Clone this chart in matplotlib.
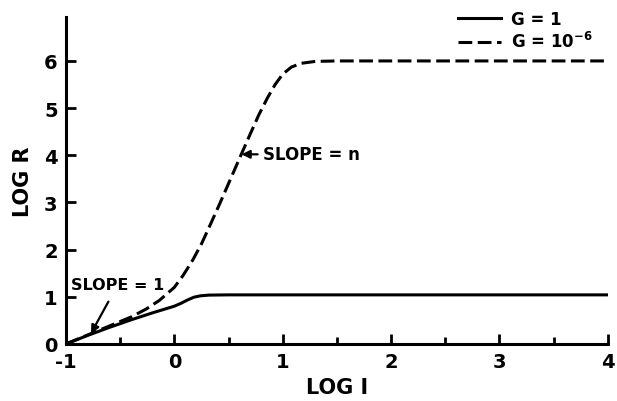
import matplotlib
matplotlib.use("Agg")
import matplotlib.pyplot as plt
from matplotlib.lines import Line2D

# Data
x_g1 = [-1.0, -0.8, -0.6, -0.4, -0.2, 0.0, 0.06, 0.12, 0.18, 0.24, 0.32, 0.5, 1.0, 2.0, 3.0, 4.0]
y_g1 = [0.0, 0.18, 0.35, 0.51, 0.66, 0.80, 0.86, 0.93, 0.99, 1.02, 1.035, 1.04, 1.04, 1.04, 1.04, 1.04]

x_g6 = [-1.0, -0.8, -0.6, -0.4, -0.26, -0.14, 0.0, 0.08, 0.17, 0.25, 0.33, 0.42, 0.5, 0.61,
        0.7, 0.78, 0.86, 0.93, 1.0, 1.08, 1.17, 1.3, 1.5, 2.0, 3.0, 4.0]
y_g6 = [0.0, 0.19, 0.38, 0.57, 0.74, 0.92, 1.20, 1.45, 1.78, 2.12, 2.52, 2.98, 3.40, 3.98,
        4.45, 4.86, 5.22, 5.50, 5.72, 5.87, 5.95, 5.99, 6.0, 6.0, 6.0, 6.0]

x_ticks = [-1, 0, 1, 2, 3, 4]
x_minor = [-0.5, 0.5, 1.5, 2.5, 3.5]
y_ticks = [0, 1, 2, 3, 4, 5, 6]
legend_labels = ["G = 1", r"G = 10$^{-6}$"]

plt.rcParams['font.family'] = ['DejaVu Sans']
plt.rcParams['font.weight'] = 'bold'

fig = plt.figure(figsize=(6.17, 4.02), dpi=100)
ax = fig.add_axes([0.107, 0.142, 0.878, 0.813])

lw = 2.2
ax.plot(x_g1, y_g1, color='black', lw=lw, solid_capstyle='round', solid_joinstyle='round')
ax.plot(x_g6, y_g6, color='black', lw=lw, dashes=(4.5, 1.8))

ax.set_xlim(-1, 4)
ax.set_ylim(0, 6.93)
for s in ['top', 'right']:
    ax.spines[s].set_visible(False)
for s in ['left', 'bottom']:
    ax.spines[s].set_linewidth(2.2)

ax.set_xticks(x_ticks)
ax.set_xticks(x_minor, minor=True)
ax.set_yticks(y_ticks)
ax.tick_params(axis='both', which='major', direction='in', length=7, width=2,
               labelsize=14, pad=6)
ax.tick_params(axis='x', which='minor', direction='in', length=5, width=2)
ax.set_xticklabels([str(t) for t in x_ticks], fontweight='bold')
ax.set_yticklabels([str(t) for t in y_ticks], fontweight='bold')

ax.set_xlabel("LOG I", fontsize=15, fontweight='bold', labelpad=4)
ax.set_ylabel("LOG R", fontsize=15, fontweight='bold', labelpad=8)

ax.annotate("SLOPE = 1", xy=(-0.77, 0.22), xytext=(-0.95, 1.27),
            fontsize=11.5, fontweight='bold', ha='left', va='center',
            arrowprops=dict(arrowstyle='-|>', color='black', lw=1.6,
                            shrinkA=6, shrinkB=0, mutation_scale=12))
ax.annotate("SLOPE = n", xy=(0.62, 4.02), xytext=(0.82, 4.02),
            fontsize=12, fontweight='bold', ha='left', va='center',
            arrowprops=dict(arrowstyle='-|>', color='black', lw=1.6,
                            shrinkA=2, shrinkB=0, mutation_scale=12))

handles = [Line2D([], [], color='black', lw=lw),
           Line2D([], [], color='black', lw=lw, dashes=(4.5, 1.8))]
fig.legend(handles, legend_labels, loc='upper right', bbox_to_anchor=(0.985, 1.01),
           frameon=False, handlelength=2.6, handletextpad=0.6,
           labelspacing=0.2, prop={'weight': 'bold', 'size': 12})

fig.savefig("out.png", dpi=100)
